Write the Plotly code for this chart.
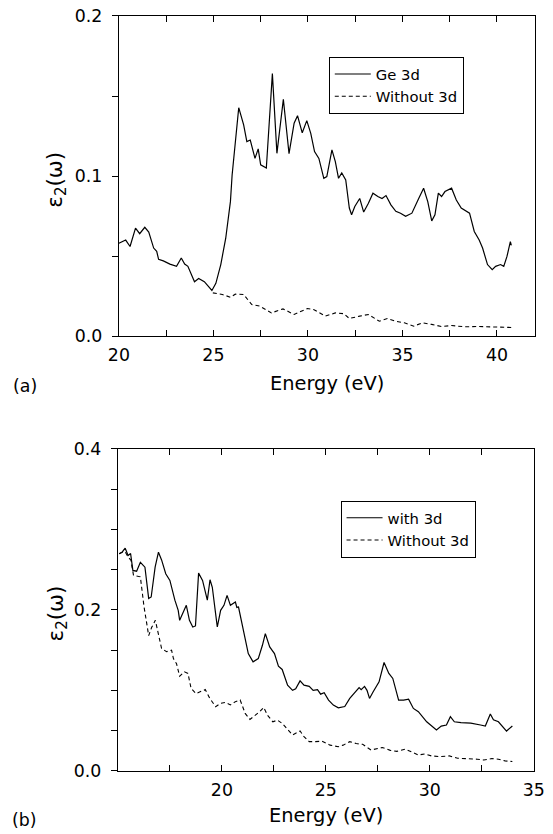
import plotly.graph_objects as go

# ---------------- Panel (a) data ----------------
energy_a_ge3d = [20.0, 20.36, 20.59, 20.88, 21.1, 21.37, 21.58, 21.84, 22.0, 22.1, 22.35, 22.7,
                 23.05, 23.3, 23.48, 23.65, 24.0, 24.22, 24.52, 24.92, 25.13, 25.39, 25.65, 25.9,
                 25.99, 26.16, 26.34, 26.6, 26.77, 26.95, 27.2, 27.37, 27.5, 27.8, 28.12, 28.36,
                 28.7, 29.0, 29.27, 29.45, 29.7, 29.94, 30.15, 30.35, 30.58, 30.84, 31.0, 31.27,
                 31.45, 31.62, 31.79, 32.0, 32.09, 32.19, 32.31, 32.48, 32.74, 32.95, 33.2, 33.44,
                 33.7, 33.92, 34.13, 34.39, 34.65, 34.9, 35.17, 35.5, 35.86, 36.12, 36.34, 36.55,
                 36.72, 36.9, 37.07, 37.25, 37.6, 37.85, 38.11, 38.55, 38.8, 39.06, 39.24, 39.5,
                 39.75, 39.93, 40.19, 40.36, 40.53, 40.71, 40.76]
eps2_a_ge3d = [0.058, 0.060, 0.056, 0.0675, 0.064, 0.068, 0.065, 0.055, 0.053, 0.048, 0.047, 0.045,
               0.0436, 0.0488, 0.045, 0.0436, 0.034, 0.036, 0.034, 0.0285, 0.033, 0.0447, 0.061, 0.084,
               0.1007, 0.1215, 0.1427, 0.132, 0.1215, 0.1225, 0.111, 0.117, 0.107, 0.105, 0.164, 0.1142,
               0.148, 0.114, 0.133, 0.1377, 0.127, 0.1346, 0.1267, 0.1153, 0.111, 0.0986, 0.0997, 0.1163,
               0.109, 0.0986, 0.102, 0.0976, 0.0903, 0.080, 0.0758, 0.081, 0.086, 0.0775, 0.083, 0.0893,
               0.0872, 0.086, 0.0878, 0.082, 0.078, 0.0768, 0.0748, 0.0768, 0.086, 0.0924, 0.084, 0.072,
               0.0758, 0.0893, 0.0872, 0.0903, 0.0924, 0.085, 0.080, 0.0768, 0.0654, 0.060, 0.055, 0.0447,
               0.0415, 0.0436, 0.0447, 0.0436, 0.0498, 0.059, 0.0567]

energy_a_no3d = [24.97, 25.47, 25.9, 26.16, 26.6, 27.03, 27.46, 28.07, 28.68, 29.27, 29.97, 30.3,
                 30.93, 31.45, 31.9, 32.19, 32.74, 33.2, 33.78, 34.2, 34.65, 35.1, 35.6, 36.05,
                 36.55, 37.07, 37.6, 38.3, 38.96, 39.84, 40.76]
eps2_a_no3d = [0.027, 0.026, 0.0243, 0.0262, 0.026, 0.0197, 0.0187, 0.0145, 0.017, 0.0135, 0.0172, 0.0166,
               0.0125, 0.0145, 0.014, 0.011, 0.0125, 0.0135, 0.0093, 0.011, 0.0093, 0.0083, 0.0062, 0.0083,
               0.0073, 0.006, 0.0066, 0.0058, 0.006, 0.0058, 0.0054]

# ---------------- Panel (b) data ----------------
energy_b_with3d = [15.06, 15.2, 15.35, 15.49, 15.61, 15.72, 15.9, 16.08, 16.3, 16.48, 16.6, 16.79,
                   16.95, 17.1, 17.3, 17.5, 17.74, 17.9, 17.97, 18.13, 18.29, 18.44, 18.6, 18.73,
                   18.88, 19.07, 19.23, 19.3, 19.43, 19.54, 19.7, 19.78, 19.94, 20.1, 20.25, 20.41,
                   20.65, 20.72, 20.8, 20.96, 21.12, 21.27, 21.5, 21.75, 21.95, 22.09, 22.3, 22.53,
                   22.72, 22.9, 23.16, 23.4, 23.55, 23.76, 23.95, 24.2, 24.39, 24.6, 24.75, 24.92,
                   25.13, 25.36, 25.6, 25.91, 26.15, 26.46, 26.6, 26.7, 26.86, 26.98, 27.1, 27.27,
                   27.43, 27.56, 27.8, 28.03, 28.22, 28.5, 28.74, 28.98, 29.21, 29.45, 29.85, 30.32,
                   30.55, 30.8, 30.99, 31.18, 31.5, 31.97, 32.44, 32.67, 32.91, 33.06, 33.3, 33.69, 33.97]
eps2_b_with3d = [0.2696, 0.2716, 0.2766, 0.2675, 0.270, 0.249, 0.248, 0.259, 0.253, 0.214, 0.216, 0.253,
                 0.2716, 0.262, 0.2448, 0.2365, 0.212, 0.1994, 0.187, 0.197, 0.2056, 0.187, 0.1787, 0.180,
                 0.2456, 0.2365, 0.220, 0.212, 0.2374, 0.228, 0.195, 0.1787, 0.1994, 0.2056, 0.218, 0.2056,
                 0.2097, 0.203, 0.2035, 0.183, 0.162, 0.1457, 0.1354, 0.1395, 0.156, 0.1705, 0.154, 0.1457,
                 0.130, 0.126, 0.1065, 0.100, 0.102, 0.1118, 0.1065, 0.105, 0.100, 0.101, 0.0953, 0.097,
                 0.088, 0.0817, 0.0784, 0.080, 0.090, 0.100, 0.1035, 0.101, 0.105, 0.100, 0.090, 0.098,
                 0.105, 0.1106, 0.1346, 0.121, 0.1148, 0.088, 0.088, 0.089, 0.0776, 0.0735, 0.061, 0.0508,
                 0.0557, 0.057, 0.0673, 0.061, 0.060, 0.0594, 0.057, 0.0557, 0.0706, 0.0635, 0.061, 0.0495, 0.0557]

energy_b_no3d = [15.06, 15.2, 15.35, 15.5, 15.62, 15.75, 16.08, 16.25, 16.48, 16.62, 16.8, 16.95,
                 17.1, 17.34, 17.58, 17.67, 17.82, 17.97, 18.2, 18.37, 18.52, 18.76, 19.0, 19.2,
                 19.42, 19.7, 19.94, 20.18, 20.41, 20.65, 20.88, 21.12, 21.35, 21.6, 21.82, 22.01,
                 22.2, 22.45, 22.67, 22.9, 23.16, 23.4, 23.55, 23.76, 23.95, 24.2, 24.5, 24.8,
                 25.2, 25.6, 25.83, 26.15, 26.46, 26.77, 27.17, 27.43, 27.72, 28.1, 28.42, 28.82,
                 29.06, 29.45, 29.76, 30.08, 30.47, 30.94, 31.34, 31.81, 32.28, 32.6, 32.99, 33.3,
                 33.62, 33.97]
eps2_b_no3d = [0.2696, 0.2716, 0.272, 0.265, 0.262, 0.243, 0.241, 0.205, 0.168, 0.178, 0.187, 0.170,
               0.152, 0.148, 0.150, 0.1395, 0.133, 0.1176, 0.123, 0.121, 0.1024, 0.096, 0.099, 0.101,
               0.090, 0.0797, 0.084, 0.085, 0.082, 0.086, 0.088, 0.0714, 0.064, 0.069, 0.0735, 0.0788,
               0.069, 0.061, 0.063, 0.059, 0.0508, 0.0446, 0.0467, 0.0495, 0.0425, 0.0363, 0.0363, 0.037,
               0.032, 0.030, 0.032, 0.0363, 0.034, 0.033, 0.026, 0.027, 0.029, 0.0255, 0.0243, 0.027,
               0.0243, 0.0198, 0.021, 0.0186, 0.0177, 0.0186, 0.0157, 0.0153, 0.0145, 0.0136, 0.0153, 0.0145,
               0.0124, 0.0116]

# ticks
xticks_a = [20, 25, 30, 35, 40]
yticks_a = [0.0, 0.1, 0.2]
xticks_b = [20, 25, 30, 35]
yticks_b = [0.0, 0.2, 0.4]

# Observed photo mapping: photo = OFF + S * figure_px. Positions below are
# written in photo pixels (as measured on the reference) and converted.
OFF, S = 8.0, 0.979
W, H = 553, 844
FONT = "DejaVu Sans"
dash = "4px,3px"

def px(x):
    return ((x - OFF) / S) / W

def py(y):
    return 1 - ((y - OFF) / S) / H

def fs(v):
    return v / S

fig = go.Figure()
fig.add_trace(go.Scatter(x=energy_a_ge3d, y=eps2_a_ge3d, mode="lines", name="Ge 3d",
                         line=dict(color="black", width=1.2), xaxis="x", yaxis="y", legend="legend"))
fig.add_trace(go.Scatter(x=energy_a_no3d, y=eps2_a_no3d, mode="lines", name="Without 3d",
                         line=dict(color="black", width=1.1, dash=dash), xaxis="x", yaxis="y", legend="legend"))
fig.add_trace(go.Scatter(x=energy_b_with3d, y=eps2_b_with3d, mode="lines", name="with 3d",
                         line=dict(color="black", width=1.2), xaxis="x2", yaxis="y2", legend="legend2"))
fig.add_trace(go.Scatter(x=energy_b_no3d, y=eps2_b_no3d, mode="lines", name="Without 3d",
                         line=dict(color="black", width=1.1, dash=dash), xaxis="x2", yaxis="y2", legend="legend2"))

tickfont = dict(family=FONT, size=fs(17), color="black")
TL = fs(6)

def xax(domain, anchor, rng, tv):
    return dict(domain=domain, anchor=anchor, range=rng, tickvals=tv, ticks="inside", ticklen=TL,
                tickcolor="black", showline=True, linecolor="black", linewidth=1, mirror="ticks",
                showgrid=False, zeroline=False, tickfont=tickfont, ticklabelstandoff=3,
                ticklabeloverflow="allow",
                minor=dict(dtick=2.5, ticks="inside", ticklen=TL, tickcolor="black", showgrid=False))

def yax(domain, anchor, rng, tv):
    return dict(domain=domain, anchor=anchor, range=rng, tickvals=tv, ticks="outside", ticklen=TL,
                tickcolor="black", showline=True, linecolor="black", linewidth=1, mirror=True,
                showgrid=False, zeroline=False, tickfont=tickfont, tickformat=".1f", ticklabelstandoff=6,
                minor=dict(dtick=0.05, ticks="outside", ticklen=TL, tickcolor="black", showgrid=False))

def yright(overlay, anchor, rng, tv):
    return dict(overlaying=overlay, anchor=anchor, side="right", range=rng, tickvals=tv,
                ticks="inside", ticklen=TL, tickcolor="black", showticklabels=False,
                showline=False, showgrid=False, zeroline=False,
                minor=dict(dtick=0.05, ticks="inside", ticklen=TL, tickcolor="black", showgrid=False))

xa_dom = [px(118), px(542)]
ya_dom = [py(335), py(14)]
xb_dom = [px(117), px(541)]
yb_dom = [py(771), py(448)]

legfont = dict(family=FONT, size=fs(14.5), color="black")

fig.update_layout(
    width=W, height=H, margin=dict(l=0, r=0, t=0, b=0),
    paper_bgcolor="white", plot_bgcolor="white",
    xaxis=xax(xa_dom, "y", [20, 42], xticks_a),
    yaxis=yax(ya_dom, "x", [0, 0.2], yticks_a),
    xaxis2=xax(xb_dom, "y2", [15, 35], xticks_b),
    yaxis2=yax(yb_dom, "x2", [0, 0.4], yticks_b),
    yaxis3=yright("y", "x", [0, 0.2], yticks_a),
    yaxis4=yright("y2", "x2", [0, 0.4], yticks_b),
    legend=dict(x=px(332), y=py(55), xanchor="left", yanchor="top", bgcolor="white",
                bordercolor="black", borderwidth=1, font=legfont, itemwidth=36, tracegroupgap=0),
    legend2=dict(x=px(344), y=py(500), xanchor="left", yanchor="top", bgcolor="white",
                 bordercolor="black", borderwidth=1, font=legfont, itemwidth=36, tracegroupgap=0),
    showlegend=True,
    annotations=[
        dict(text="ε<sub>2</sub>(ω)", textangle=-90, x=px(54), y=py(178), xref="paper", yref="paper",
             showarrow=False, font=dict(family=FONT, size=fs(21), color="black"), xanchor="center", yanchor="middle"),
        dict(text="ε<sub>2</sub>(ω)", textangle=-90, x=px(55), y=py(613), xref="paper", yref="paper",
             showarrow=False, font=dict(family=FONT, size=fs(21), color="black"), xanchor="center", yanchor="middle"),
        dict(text="Energy (eV)", x=px(330), y=py(383), xref="paper", yref="paper", showarrow=False,
             font=dict(family=FONT, size=fs(19), color="black"), xanchor="center", yanchor="middle"),
        dict(text="Energy (eV)", x=px(329), y=py(816), xref="paper", yref="paper", showarrow=False,
             font=dict(family=FONT, size=fs(19), color="black"), xanchor="center", yanchor="middle"),
        dict(text="(a)", x=px(22), y=py(385), xref="paper", yref="paper", showarrow=False,
             font=dict(family=FONT, size=fs(17), color="black"), xanchor="center", yanchor="middle"),
        dict(text="(b)", x=px(22), y=py(820), xref="paper", yref="paper", showarrow=False,
             font=dict(family=FONT, size=fs(17), color="black"), xanchor="center", yanchor="middle"),
    ],
)

fig.write_html("out.html")
